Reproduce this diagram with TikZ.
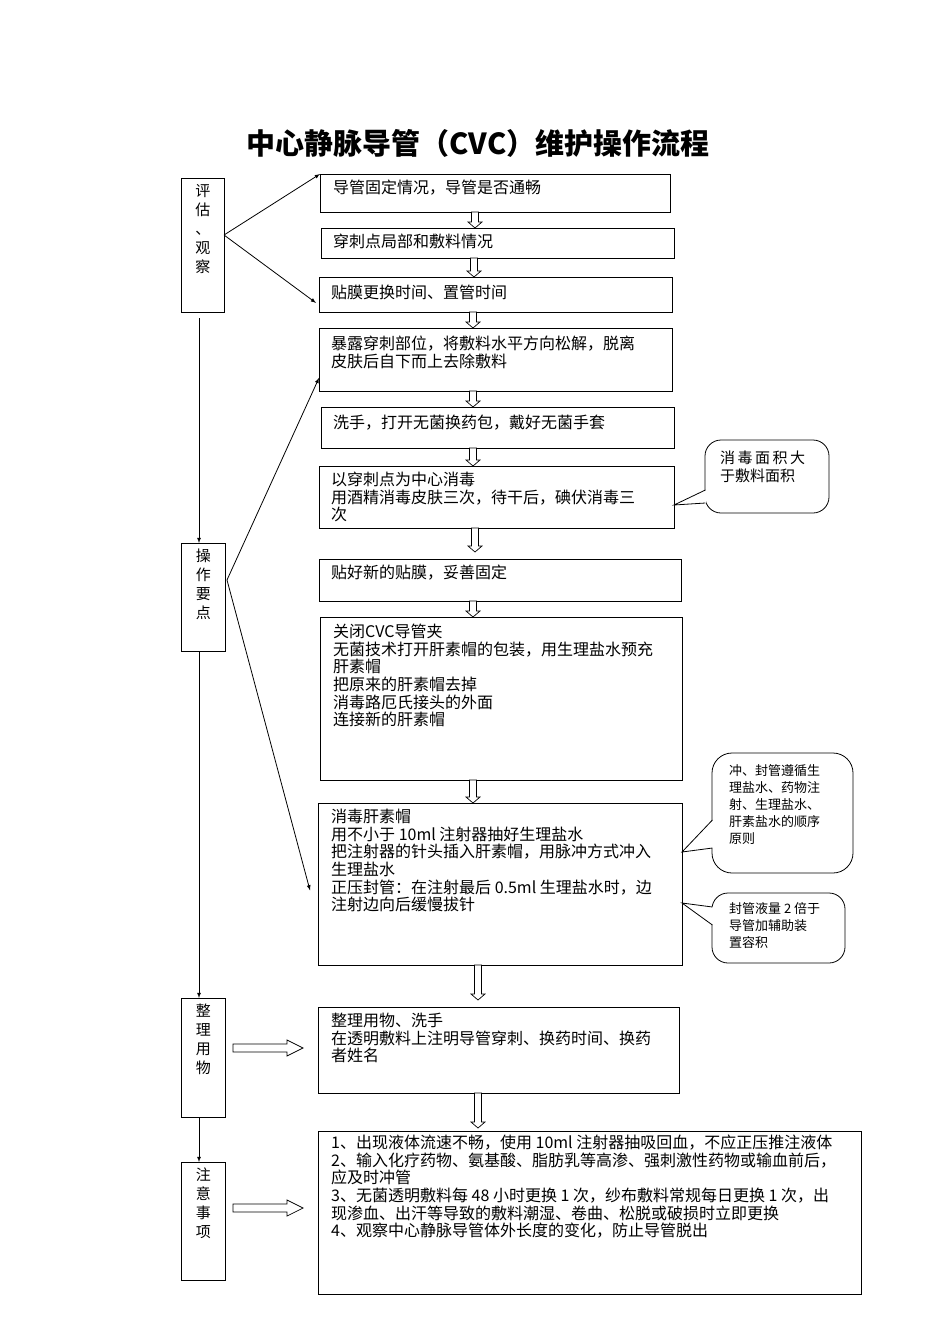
\documentclass[tikz,border=0pt]{standalone}
\usepackage{fontspec}
\setmainfont{Noto Sans CJK SC}
\usetikzlibrary{calc}
\begin{document}
\begin{tikzpicture}[x=1pt,y=-1pt,
  bx/.style={draw,line width=0.8pt,minimum width=#1,anchor=north west,inner sep=0pt},
  tx/.style={anchor=north west,align=left,font=\fontsize{16}{17.6}\selectfont,inner sep=0pt},
  side/.style={draw,line width=0.8pt,anchor=north west,inner sep=0pt},
  stx/.style={align=center,font=\fontsize{15}{19}\selectfont,inner sep=0pt},
  arr/.style={-latex,line width=0.8pt},
  ctx/.style={anchor=north west,align=left,font=\fontsize{15}{18}\selectfont,inner sep=0pt}]
\useasboundingbox (0,0) rectangle (950,1344);
\newcommand{\hdown}[3]{% x, y1, y2 hollow down arrow
  \draw[line width=0.7pt,fill=white] (#1-3.5,#2) -- (#1-3.5,#3-6) -- (#1-7,#3-6) -- (#1,#3) -- (#1+7,#3-6) -- (#1+3.5,#3-6) -- (#1+3.5,#2) -- cycle;}
\newcommand{\hright}[3]{% y, x1, x2
  \draw[line width=0.7pt,fill=white] (#2,#1-4) -- (#3-16,#1-4) -- (#3-16,#1-8) -- (#3,#1) -- (#3-16,#1+8) -- (#3-16,#1+4) -- (#2,#1+4) -- cycle;}
\node[font=\fontsize{29}{32}\selectfont\bfseries] (title) at (478,143) {中心静脉导管（CVC）维护操作流程};
% side boxes
\node[side,minimum width=43pt,minimum height=134pt] (s1) at (181,178) {};
\node[stx,anchor=north] at ($(s1.north)+(0,6)$) {评\\估\\、\\观\\察};
\node[side,minimum width=44pt,minimum height=108pt] (s2) at (181,543) {};
\node[stx,anchor=north] at ($(s2.north)+(0,6)$) {操\\作\\要\\点};
\node[side,minimum width=44pt,minimum height=119pt] (s3) at (181,998) {};
\node[stx,anchor=north] at ($(s3.north)+(0,6)$) {整\\理\\用\\物};
\node[side,minimum width=44pt,minimum height=118pt] (s4) at (181,1162) {};
\node[stx,anchor=north] at ($(s4.north)+(0,6)$) {注\\意\\事\\项};
\coordinate (s1b) at (199,318);
\draw[arr] (s1b) -- (s2.north -| s1b);
\draw[arr] (s2.south -| s1b) -- (s3.north -| s1b);
\draw[arr] (s3.south -| s1b) -- (s4.north -| s1b);
% right boxes
\node[bx=350pt,minimum height=38pt] (b1) at (320,174) {};
\node[tx] at (333,180) {导管固定情况，导管是否通畅};
\node[bx=353pt,minimum height=30pt] (b2) at (321,228) {};
\node[tx] at (333,234) {穿刺点局部和敷料情况};
\node[bx=353pt,minimum height=35pt] (b3) at (319,277) {};
\node[tx] at (331,285) {贴膜更换时间、置管时间};
\node[bx=353pt,minimum height=63pt] (b4) at (319,328) {};
\node[tx] at (331,336) {暴露穿刺部位，将敷料水平方向松解，脱离\\皮肤后自下而上去除敷料};
\node[bx=353pt,minimum height=41pt] (b5) at (321,407) {};
\node[tx] at (333,415) {洗手，打开无菌换药包，戴好无菌手套};
\node[bx=355pt,minimum height=62pt] (b6) at (319,466) {};
\node[tx] at (331,472) {以穿刺点为中心消毒\\用酒精消毒皮肤三次，待干后，碘伏消毒三\\次};
\node[bx=362pt,minimum height=42pt] (b7) at (319,559) {};
\node[tx] at (331,565) {贴好新的贴膜，妥善固定};
\node[bx=362pt,minimum height=163pt] (b8) at (320,617) {};
\node[tx] at (333,624) {关闭CVC导管夹\\无菌技术打开肝素帽的包装，用生理盐水预充\\肝素帽\\把原来的肝素帽去掉\\消毒路厄氏接头的外面\\连接新的肝素帽};
\node[bx=364pt,minimum height=162pt] (b9) at (318,803) {};
\node[tx] at (331,809) {消毒肝素帽\\用不小于 10ml 注射器抽好生理盐水\\把注射器的针头插入肝素帽，用脉冲方式冲入\\生理盐水\\正压封管：在注射最后 0.5ml 生理盐水时，边\\注射边向后缓慢拔针};
\node[bx=361pt,minimum height=86pt] (b10) at (318,1007) {};
\node[tx] at (331,1013) {整理用物、洗手\\在透明敷料上注明导管穿刺、换药时间、换药\\者姓名};
\node[bx=543pt,minimum height=163pt] (b11) at (318,1131) {};
\node[tx] at (331,1135) {1、出现液体流速不畅，使用 10ml 注射器抽吸回血，不应正压推注液体\\2、输入化疗药物、氨基酸、脂肪乳等高渗、强刺激性药物或输血前后，\\应及时冲管\\3、无菌透明敷料每 48 小时更换 1 次，纱布敷料常规每日更换 1 次，出\\现渗血、出汗等导致的敷料潮湿、卷曲、松脱或破损时立即更换\\4、观察中心静脉导管体外长度的变化，防止导管脱出};
% hollow arrows
\hdown{475}{212}{228}
\hdown{474}{258}{277}
\hdown{473}{312}{328}
\hdown{473}{391}{407}
\hdown{473}{448}{466}
\hdown{475}{528}{552}
\hdown{473}{601}{617}
\hdown{473}{780}{803}
\hdown{478}{965}{1000}
\hdown{478}{1093}{1128}
\hright{1048}{233}{303}
\hright{1208}{233}{303}
% diagonal arrows
\coordinate (e1) at (224,235);
\coordinate (e2) at (227,580);
\draw[arr] (e1) -- (b1.north west);
\draw[arr] (e1) -- ($(b3.west)+(-3,8)$);
\draw[arr] (e2) -- ($(b4.west)+(0,18)$);
\draw[arr] (e2) -- ($(b9.west)+(-8,6)$);
% callouts
\draw[line width=0.8pt,rounded corners=16pt] (705,440) rectangle (829,513);
\fill[white] (706,490) -- (674,505) -- (706,503) -- cycle;
\draw[line width=0.8pt] (705.4,490) -- (674,505) -- (705.4,503);
\node[ctx] (c1) at (720,451) {消\,毒\,面\,积\,大\\于敷料面积};
\draw[line width=0.8pt,rounded corners=20pt] (712,753) rectangle (853,873);
\fill[white] (713,820) -- (682,852) -- (713,848) -- cycle;
\draw[line width=0.8pt] (712.4,820) -- (682,852) -- (712.4,848);
\node[ctx,font=\fontsize{13}{17}\selectfont] (c2) at (729,764) {冲、封管遵循生\\理盐水、药物注\\射、生理盐水、\\肝素盐水的顺序\\原则};
\draw[line width=0.8pt,rounded corners=16pt] (712,893) rectangle (845,963);
\fill[white] (713,907) -- (682,903) -- (713,925) -- cycle;
\draw[line width=0.8pt] (712.4,907) -- (682,903) -- (712.4,925);
\node[ctx,font=\fontsize{13}{17}\selectfont] (c3) at (729,902) {封管液量 2 倍于\\导管加辅助装\\置容积};
\end{tikzpicture}
\end{document}
